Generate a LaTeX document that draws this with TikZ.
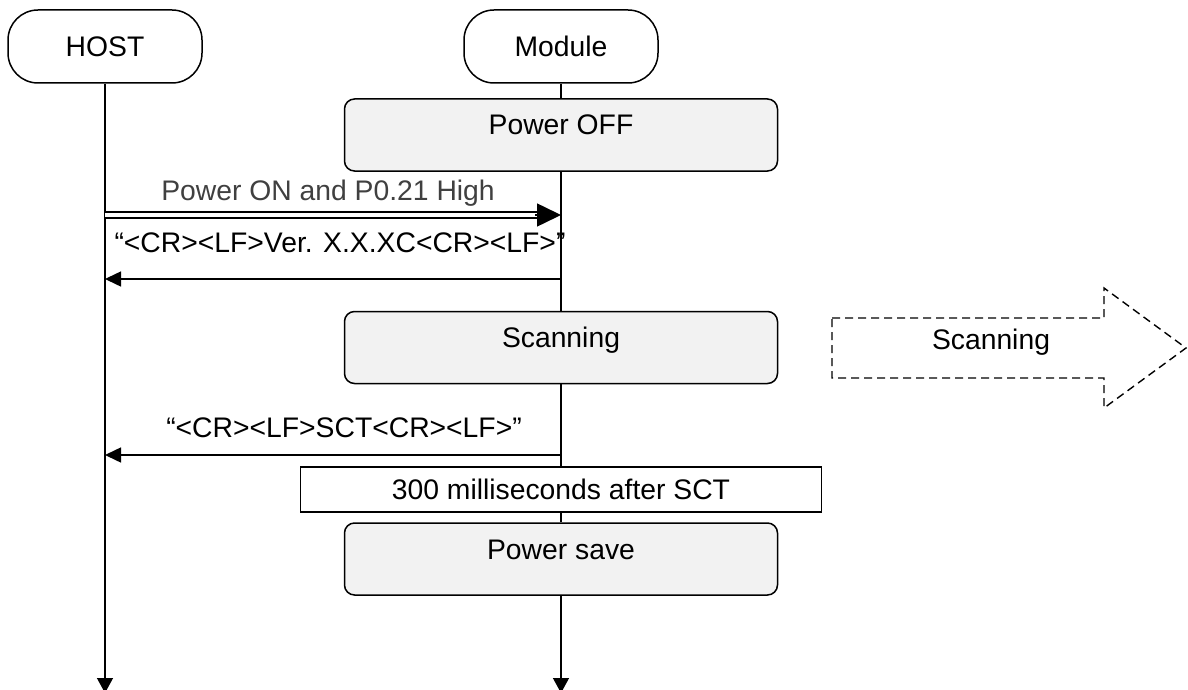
\documentclass[tikz,border=0pt]{standalone}
\usepackage{fontspec}
\setmainfont{Liberation Sans}
\usetikzlibrary{arrows.meta,calc}
\definecolor{boxgray}{HTML}{F2F2F2}
\definecolor{labelgray}{HTML}{404040}
\begin{document}
\begin{tikzpicture}[x=1pt,y=-1pt,
  font=\fontsize{28.3}{34}\selectfont,
  lifehead/.style={draw, line width=1.5pt, rounded corners=30pt, minimum width=194pt, minimum height=73pt, inner sep=0pt},
  statebox/.style={draw, line width=1.5pt, fill=boxgray, rounded corners=10pt, minimum width=433pt, minimum height=72pt, inner sep=0pt, text height=0pt, text depth=0pt},
  timebox/.style={draw, line width=1.5pt, fill=white, minimum width=521pt, minimum height=45pt, inner sep=0pt},
  lifeline/.style={line width=1.3pt},
  lifeend/.style={line width=1.3pt, -{Triangle[length=15pt,width=16pt]}},
  msg/.style={line width=1.5pt, -{Triangle[length=16pt,width=15pt]}},
  msglabel/.style={inner sep=0pt, anchor=base},
  dashedarrow/.style={line width=1.4pt, dash pattern=on 8pt off 5pt}
]
\useasboundingbox (0,0) rectangle (1188,690);

% lifeline heads
\node[lifehead] (host) at (105,46.5) {HOST};
\node[lifehead] (module) at (561,46.5) {Module};

% state boxes
\node[statebox] (off) at (561,135) {Power OFF};
\node[statebox] (scan) at (561,347.5) {Scanning};
\node[timebox] (wait) at (561,489.5) {300 milliseconds after SCT};
\node[statebox] (save) at (561,559) {Power save};

% coordinates on lifelines
\coordinate (h1) at (105,215);
\coordinate (m1) at (561,215);
\coordinate (h2) at (105,279);
\coordinate (m2) at (561,279);
\coordinate (h3) at (105,455);
\coordinate (m3) at (561,455);
\coordinate (hostend) at (105,693);
\coordinate (modend) at (561,693);

% lifelines
\draw[lifeend] (host.south) -- (hostend);
\draw[lifeline] (module.south) -- (off.north);
\draw[lifeline] (off.south) -- (scan.north);
\draw[lifeline] (scan.south) -- (wait.north);
\draw[lifeline] (wait.south) -- (save.north);
\draw[lifeend] (save.south) -- (modend);

% messages
\draw[line width=1.5pt, double, double distance=4.5pt] (h1) -- ($(m1)+(-20,0)$);
\draw[line width=1.5pt, -{Triangle[length=24pt,width=23pt]}] ($(m1)+(-26,0)$) -- (m1);
\node[msglabel, text=labelgray] (l1) at (328,200) {Power ON and P0.21 High};

\draw[msg] (m2) -- (h2);
\node[msglabel] (l2) at (340,252) {“<CR><LF>Ver. X.X.XC<CR><LF>”};

\draw[msg] (m3) -- (h3);
\node[msglabel] (l3) at (344,437) {“<CR><LF>SCT<CR><LF>”};

% dashed scanning arrow
\draw[dashedarrow] (832,318) -- (1104,318) -- (1104,288) -- (1186,348) -- (1104,408) -- (1104,378) -- (832,378) -- cycle;
\node[inner sep=0pt] (scantxt) at (991,342) {Scanning};
\end{tikzpicture}
\end{document}
